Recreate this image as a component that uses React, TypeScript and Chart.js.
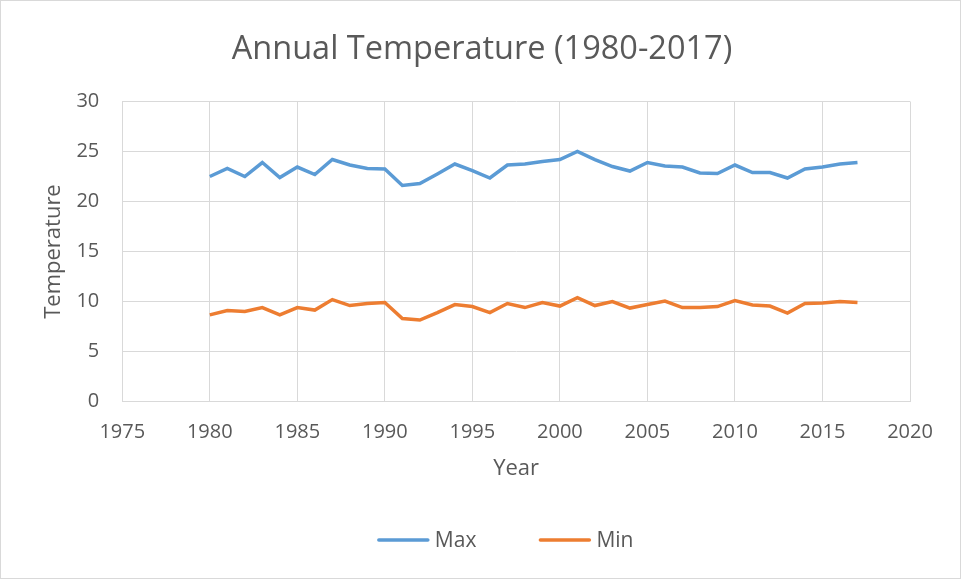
import React, { useEffect, useRef } from "react";
import { Chart, registerables } from "chart.js";

Chart.register(...registerables);

const years: number[] = [
  1980, 1981, 1982, 1983, 1984, 1985, 1986, 1987, 1988, 1989,
  1990, 1991, 1992, 1993, 1994, 1995, 1996, 1997, 1998, 1999,
  2000, 2001, 2002, 2003, 2004, 2005, 2006, 2007, 2008, 2009,
  2010, 2011, 2012, 2013, 2014, 2015, 2016, 2017,
];

const maxTemps: number[] = [
  22.5, 23.3, 22.5, 23.9, 22.4, 23.45, 22.7, 24.2, 23.65, 23.3,
  23.25, 21.6, 21.8, 22.75, 23.75, 23.1, 22.35, 23.65, 23.75, 24.0,
  24.2, 25.0, 24.2, 23.5, 23.05, 23.9, 23.55, 23.45, 22.85, 22.8,
  23.65, 22.9, 22.9, 22.35, 23.25, 23.45, 23.75, 23.9,
];

const minTemps: number[] = [
  8.67, 9.1, 9.0, 9.4, 8.67, 9.4, 9.15, 10.2, 9.6, 9.8,
  9.9, 8.3, 8.15, 8.9, 9.7, 9.5, 8.9, 9.8, 9.4, 9.9,
  9.55, 10.4, 9.6, 10.0, 9.35, 9.7, 10.05, 9.4, 9.4, 9.5,
  10.1, 9.65, 9.55, 8.85, 9.8, 9.85, 10.0, 9.9,
];

const FONT = "'Open Sans', 'Noto Sans', sans-serif";
const TEXT = "#595959";
const GRID = "#d9d9d9";

// Excel-style legend drawn below the axis title
const bottomLegend = {
  id: "bottomLegend",
  afterDraw(chart: any) {
    const ctx = chart.ctx;
    const ds = chart.data.datasets;
    const lineW = 53;
    const gapText = 5;
    const gapItem = 62;
    ctx.save();
    ctx.font = `21px ${FONT}`;
    const widths = ds.map((d: any) => ctx.measureText(d.label).width);
    let total = 0;
    widths.forEach((w: number, i: number) => {
      total += lineW + gapText + w + (i < ds.length - 1 ? gapItem : 0);
    });
    const cx = (chart.chartArea.left + chart.chartArea.right) / 2 - 11;
    let x = cx - total / 2;
    const y = 539;
    ds.forEach((d: any, i: number) => {
      ctx.strokeStyle = d.borderColor;
      ctx.lineWidth = 3.5;
      ctx.lineCap = "round";
      ctx.beginPath();
      ctx.moveTo(x + 2, y);
      ctx.lineTo(x + lineW - 2, y);
      ctx.stroke();
      x += lineW + gapText;
      ctx.fillStyle = TEXT;
      ctx.textBaseline = "middle";
      ctx.textAlign = "left";
      ctx.fillText(d.label, x, y + 1);
      x += widths[i] + gapItem;
    });
    ctx.restore();
  },
};

export default function App() {
  const ref = useRef<HTMLCanvasElement | null>(null);

  useEffect(() => {
    document.body.style.margin = "0";
    if (!ref.current) return;
    const chart = new Chart(ref.current, {
      type: "line",
      data: {
        datasets: [
          {
            label: "Max",
            data: years.map((y, i) => ({ x: y, y: maxTemps[i] })),
            borderColor: "#5B9BD5",
            backgroundColor: "#5B9BD5",
            borderWidth: 3.5,
            pointRadius: 0,
            tension: 0,
          },
          {
            label: "Min",
            data: years.map((y, i) => ({ x: y, y: minTemps[i] })),
            borderColor: "#ED7D31",
            backgroundColor: "#ED7D31",
            borderWidth: 3.5,
            pointRadius: 0,
            tension: 0,
          },
        ],
      },
      plugins: [bottomLegend],
      options: {
        animation: false,
        responsive: false,
        layout: { padding: { left: 17, right: 14, top: 14, bottom: 96 } },
        plugins: {
          title: {
            display: true,
            text: "Annual Temperature (1980-2017)",
            color: TEXT,
            font: { family: FONT, size: 32.5, weight: "normal" },
            padding: { top: 15, bottom: 32.5 },
          },
          legend: { display: false },
          tooltip: { enabled: false },
        },
        scales: {
          x: {
            type: "linear",
            min: 1975,
            max: 2020,
            ticks: {
              stepSize: 5,
              color: TEXT,
              font: { family: FONT, size: 20 },
              padding: 19,
              callback: (v: any) => String(v),
            },
            grid: { color: GRID, lineWidth: 1, drawTicks: false },
            border: { color: GRID },
            title: {
              display: true,
              text: "Year",
              color: TEXT,
              font: { family: FONT, size: 22 },
              padding: { top: -8, bottom: 0 },
            },
          },
          y: {
            min: 0,
            max: 30,
            ticks: {
              stepSize: 5,
              color: TEXT,
              font: { family: FONT, size: 20 },
              padding: 23,
            },
            grid: { color: GRID, lineWidth: 1, drawTicks: false },
            border: { color: GRID },
            title: {
              display: true,
              text: "Temperature",
              color: TEXT,
              font: { family: FONT, size: 22 },
              padding: { top: 23, bottom: -14 },
            },
          },
          yRightSpace: {
            position: "right",
            display: true,
            min: 0,
            max: 30,
            ticks: { display: false },
            grid: { display: false, drawTicks: false },
            border: { display: false },
            afterFit: (scale: any) => {
              scale.width = 36;
            },
          },
        },
      },
    });
    return () => chart.destroy();
  }, []);

  return (
    <div
      style={{
        width: 961,
        height: 579,
        border: "1px solid #d9d9d9",
        boxSizing: "border-box",
        background: "#fff",
      }}
    >
      <canvas ref={ref} width={959} height={577} style={{ display: "block" }} />
    </div>
  );
}
